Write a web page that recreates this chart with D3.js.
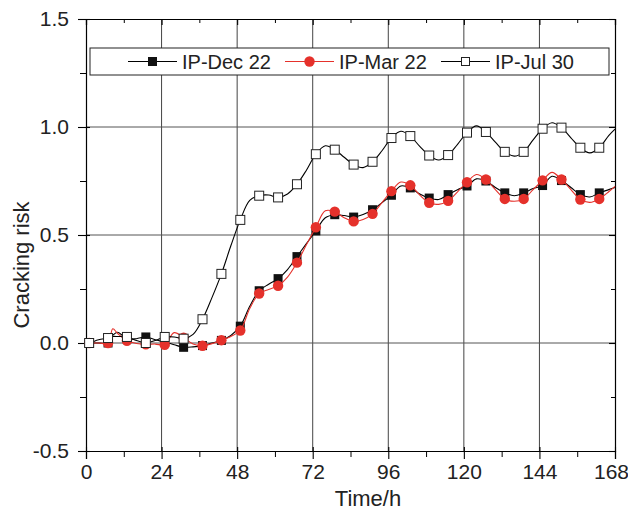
<!DOCTYPE html>
<html>
<head>
<meta charset="utf-8">
<script src="https://cdn.jsdelivr.net/npm/d3@7"></script>
<style>
  body { margin: 0; background: #fff; }
  text { font-family: "Liberation Sans", Arial, sans-serif; fill: #222; }
</style>
</head>
<body>
<div id="chart"></div>
<script>
var width = 628;
var height = 513;

// hours of the curve points (markers sit on every 6th hour from hour 1)
var hours = [0, 1, 4, 7, 8.5, 10, 13, 16, 19, 22, 25, 28, 31, 34, 37, 40, 43, 46, 49,
             52, 55, 58, 61, 64, 67, 70, 73, 76, 79, 82, 85, 88, 91, 94, 97, 100,
             103, 106, 109, 112, 115, 118, 121, 124, 127, 130, 133, 136, 139, 142,
             145, 148, 151, 154, 157, 160, 163, 166, 168];

var dec22 = [0, 0, 0, 0, 0.035, 0.05, 0.02, 0.02, 0.028, 0.015, 0.005, -0.008, -0.02, -0.018,
             -0.012, 0, 0.012, 0.035, 0.078, 0.17, 0.242, 0.272, 0.298, 0.34, 0.40, 0.46,
             0.519, 0.58, 0.594, 0.59, 0.583, 0.595, 0.617, 0.65, 0.684, 0.727, 0.718, 0.69,
             0.671, 0.664, 0.687, 0.71, 0.727, 0.76, 0.75, 0.72, 0.695, 0.682, 0.695, 0.715,
             0.729, 0.772, 0.752, 0.72, 0.687, 0.676, 0.695, 0.71, 0.72];

var mar22 = [0, 0, 0, 0, 0.066, 0.045, 0.01, -0.002, -0.006, -0.005, -0.008, 0.048, 0.025, -0.005,
             -0.013, -0.003, 0.013, 0.03, 0.058, 0.16, 0.229, 0.248, 0.265, 0.305, 0.372, 0.455,
             0.536, 0.612, 0.608, 0.58, 0.563, 0.572, 0.598, 0.65, 0.703, 0.745, 0.73, 0.685,
             0.649, 0.642, 0.658, 0.70, 0.744, 0.78, 0.757, 0.71, 0.667, 0.656, 0.667, 0.71,
             0.753, 0.79, 0.757, 0.71, 0.664, 0.651, 0.667, 0.70, 0.725];

var jul30 = [0, 0, 0.015, 0.023, 0.03, 0.03, 0.028, 0.012, 0.0, 0.012, 0.028, 0.028, 0.02, 0.04,
             0.11, 0.21, 0.32, 0.45, 0.57, 0.66, 0.682, 0.685, 0.674, 0.69, 0.735, 0.80,
             0.874, 0.913, 0.895, 0.86, 0.826, 0.812, 0.839, 0.89, 0.949, 0.98, 0.958, 0.91,
             0.868, 0.847, 0.870, 0.92, 0.974, 1.005, 0.977, 0.93, 0.885, 0.865, 0.885, 0.94,
             0.992, 1.02, 0.997, 0.95, 0.904, 0.88, 0.904, 0.96, 0.99];

var seriesNames = ["IP-Dec 22", "IP-Mar 22", "IP-Jul 30"];
var xTicks = [0, 24, 48, 72, 96, 120, 144, 168];
var yTicks = [-0.5, 0.0, 0.5, 1.0, 1.5];

var red = "#e5312b";
var series = [
    {name: seriesNames[0], values: dec22, color: "#000", marker: "fillsq"},
    {name: seriesNames[1], values: mar22, color: red, marker: "circle"},
    {name: seriesNames[2], values: jul30, color: "#000", marker: "opensq"}
];

var plotL = 86, plotR = 615, plotT = 19, plotB = 451;

var x = d3.scaleLinear().domain([0, 168]).range([plotL, plotR]);
var y = d3.scaleLinear().domain([-0.5, 1.5]).range([plotB, plotT]);

var svg = d3.select("#chart")
    .append("svg")
    .attr("width", width)
    .attr("height", height);

// grid
svg.append("g")
    .selectAll("line")
    .data(xTicks.slice(1, -1))
    .enter()
    .append("line")
    .attr("x1", function(d) {return x(d)})
    .attr("x2", function(d) {return x(d)})
    .attr("y1", plotT)
    .attr("y2", plotB)
    .attr("stroke", "#444")
    .attr("stroke-width", 1);

svg.append("g")
    .selectAll("line")
    .data(yTicks.slice(1, -1))
    .enter()
    .append("line")
    .attr("x1", plotL)
    .attr("x2", plotR)
    .attr("y1", function(d) {return y(d)})
    .attr("y2", function(d) {return y(d)})
    .attr("stroke", "#555")
    .attr("stroke-width", 1);

// axes on all four sides
function addAxis(axis, transform, minorAxis) {
    var g = svg.append("g").attr("transform", transform).call(axis);
    g.select(".domain").attr("stroke", "#000").attr("stroke-width", 1.2);
    g.selectAll(".tick line").attr("stroke", "#000").attr("stroke-width", 1.1);
    g.selectAll("text").attr("font-size", 21).attr("fill", "#222");
    var m = svg.append("g").attr("transform", transform).call(minorAxis);
    m.select(".domain").remove();
    m.selectAll(".tick line").attr("stroke", "#000");
    return g;
}

var xMinor = d3.range(12, 168, 24);
var yMinor = [-0.25, 0.25, 0.75, 1.25];

var gx = addAxis(d3.axisBottom(x).tickValues(xTicks).tickSize(8).tickPadding(5).tickFormat(d3.format("d")),
        "translate(0," + plotB + ")",
        d3.axisBottom(x).tickValues(xMinor).tickSize(6).tickFormat(""));
gx.selectAll(".tick line").attr("y1", -4);
gx.selectAll(".tick text").filter(function(d) {return d == 168}).attr("dx", -4);

var gy = addAxis(d3.axisLeft(y).tickValues(yTicks).tickSize(8).tickPadding(9)
            .tickFormat(function(d) {return d.toFixed(1)}),
        "translate(" + plotL + ",0)",
        d3.axisLeft(y).tickValues(yMinor).tickSize(6).tickFormat(""));
gy.selectAll(".tick line").attr("x1", 4);

addAxis(d3.axisTop(x).tickValues(xTicks).tickSize(-6).tickFormat(""),
        "translate(0," + plotT + ")",
        d3.axisTop(x).tickValues(xMinor).tickSize(-4).tickFormat(""));
addAxis(d3.axisRight(y).tickValues(yTicks).tickSize(-6).tickFormat(""),
        "translate(" + plotR + ",0)",
        d3.axisRight(y).tickValues(yMinor).tickSize(-4).tickFormat(""));

svg.append("text")
    .attr("x", 368)
    .attr("y", 506)
    .attr("text-anchor", "middle")
    .attr("font-size", 22)
    .text("Time/h");

svg.append("text")
    .attr("transform", "translate(28.5,265) rotate(-90)")
    .attr("text-anchor", "middle")
    .attr("font-size", 22)
    .text("Cracking risk");

// curves
var line = d3.line()
    .x(function(d) {return x(d[0])})
    .y(function(d) {return y(d[1])})
    .curve(d3.curveCatmullRom.alpha(0.5));

var plot = svg.append("g");

function drawMarker(g, type, color) {
    if (type == "circle") {
        g.append("circle").attr("r", 5.2).attr("fill", color);
    } else if (type == "fillsq") {
        g.append("rect").attr("x", -4.5).attr("y", -4.5).attr("width", 9).attr("height", 9)
            .attr("fill", "#111");
    } else {
        g.append("rect").attr("x", -4.5).attr("y", -4.5).attr("width", 9).attr("height", 9)
            .attr("fill", "#fff").attr("stroke", "#222").attr("stroke-width", 1);
    }
}

series.forEach(function(s) {
    var pts = hours.map(function(h, i) {return [h, s.values[i]]});
    plot.append("path")
        .attr("d", line(pts))
        .attr("fill", "none")
        .attr("stroke", s.color)
        .attr("stroke-width", 1.1);
    plot.append("g")
        .selectAll("g")
        .data(pts.filter(function(p) {return p[0] >= 1 && (p[0] - 1) % 6 == 0}))
        .enter()
        .append("g")
        .attr("transform", function(p) {return "translate(" + x(p[0]) + "," + y(p[1]) + ")"})
        .each(function() {drawMarker(d3.select(this), s.marker, s.color)});
});

// legend
var lg = svg.append("g");
lg.append("rect")
    .attr("x", 90).attr("y", 48).attr("width", 519).attr("height", 27)
    .attr("fill", "#fff").attr("stroke", "#222").attr("stroke-width", 1);

var legendX = [128, 285, 441];
series.forEach(function(s, i) {
    var g = lg.append("g").attr("transform", "translate(" + legendX[i] + ",61.5)");
    g.append("line").attr("x1", 0).attr("x2", 49).attr("stroke", s.color).attr("stroke-width", 1.1);
    var m = g.append("g").attr("transform", "translate(24.5,0)");
    drawMarker(m, s.marker, s.color);
    if (s.marker == "opensq") m.select("rect").attr("x", -4).attr("y", -4).attr("width", 8).attr("height", 8);
    g.append("text")
        .attr("x", 54)
        .attr("y", 7.5)
        .attr("font-size", 20)
        .text(s.name);
});
</script>
</body>
</html>
